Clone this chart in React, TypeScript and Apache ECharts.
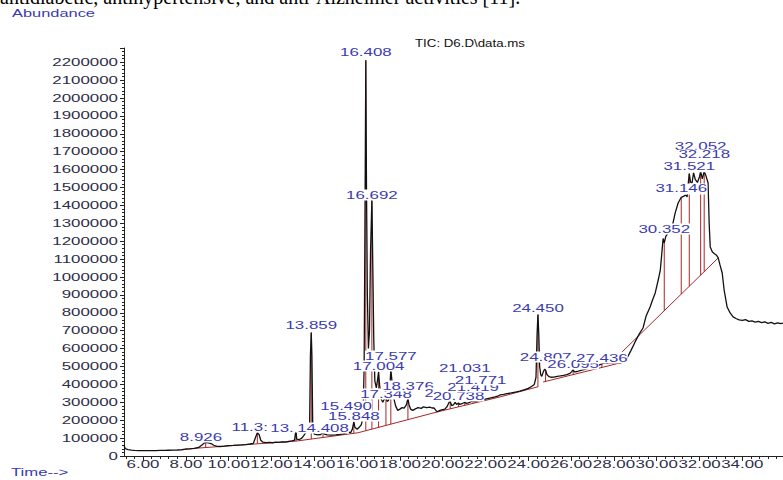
import React, { useEffect, useRef } from "react";
import * as echarts from "echarts";

// Axis extents (retention time in minutes, abundance in counts)
const TIME_MIN = 5.11;
const TIME_MAX = 35.9;
const ABUNDANCE_MAX = 2279000;

const timeTicks = [6, 8, 10, 12, 14, 16, 18, 20, 22, 24, 26, 28, 30, 32, 34];
const timeTickLabels = [
  "6.00", "8.00", "10.00", "12.00", "14.00", "16.00", "18.00", "20.00",
  "22.00", "24.00", "26.00", "28.00", "30.00", "32.00", "34.00",
];
const abundanceTicks = [
  0, 100000, 200000, 300000, 400000, 500000, 600000, 700000, 800000, 900000,
  1000000, 1100000, 1200000, 1300000, 1400000, 1500000, 1600000, 1700000,
  1800000, 1900000, 2000000, 2100000, 2200000,
];
const abundanceTickLabels = [
  "0", "100000", "200000", "300000", "400000", "500000", "600000", "700000",
  "800000", "900000", "1000000", "1100000", "1200000", "1300000", "1400000",
  "1500000", "1600000", "1700000", "1800000", "1900000", "2000000", "2100000",
  "2200000",
];

// Total ion chromatogram: [retention time, abundance]
const ticTrace: [number, number][] = [
  [5.11, 62000], [5.14, 48000], [5.2, 40000], [5.3, 36000], [5.45, 33000], [5.6, 31500],
  [5.8, 30500], [6.0, 30000], [6.2, 30500], [6.4, 29500], [6.6, 30000], [6.8, 31000],
  [7.0, 31000], [7.2, 32000], [7.4, 32500], [7.6, 33500], [7.8, 35000], [8.0, 38000],
  [8.2, 40000], [8.4, 43000], [8.6, 48000], [8.75, 62000], [8.85, 71000], [8.926, 76000],
  [9.0, 75000], [9.1, 72000], [9.2, 68000], [9.3, 60000], [9.45, 54000], [9.6, 53000],
  [9.8, 55000], [10.0, 58000], [10.2, 59000], [10.4, 61000], [10.6, 62000], [10.8, 64000],
  [11.0, 67000], [11.15, 70000], [11.25, 102000], [11.34, 130000], [11.42, 120000],
  [11.5, 88000], [11.6, 77000], [11.75, 75000], [11.9, 76000], [12.05, 74000],
  [12.2, 77000], [12.35, 76000], [12.5, 79000], [12.65, 78000], [12.8, 81000],
  [12.95, 84000], [13.08, 88000], [13.12, 126000], [13.15, 130000], [13.18, 94000],
  [13.3, 92000], [13.4, 98000], [13.5, 112000], [13.6, 130000], [13.7, 138000],
  [13.78, 150000], [13.82, 560000], [13.859, 690000], [13.89, 560000], [13.93, 150000],
  [14.0, 122000], [14.15, 118000], [14.3, 120000], [14.38, 130000], [14.408, 135000],
  [14.45, 124000], [14.6, 118000], [14.8, 117000], [15.0, 118000], [15.2, 121000],
  [15.35, 124000], [15.49, 130000], [15.6, 134000], [15.7, 130000], [15.78, 150000],
  [15.848, 190000], [15.9, 160000], [16.0, 150000], [16.1, 160000], [16.2, 175000],
  [16.28, 220000], [16.33, 500000], [16.37, 1350000], [16.408, 2210000], [16.44, 1500000],
  [16.48, 900000], [16.53, 600000], [16.58, 700000], [16.63, 1150000], [16.692, 1430000],
  [16.73, 1100000], [16.78, 650000], [16.83, 420000], [16.9, 380000], [16.95, 420000],
  [17.004, 470000], [17.05, 400000], [17.12, 320000], [17.2, 300000], [17.28, 320000],
  [17.348, 330000], [17.4, 305000], [17.47, 310000], [17.53, 380000], [17.577, 480000],
  [17.63, 420000], [17.7, 330000], [17.8, 280000], [17.9, 255000], [18.0, 262000],
  [18.1, 270000], [18.2, 268000], [18.3, 285000], [18.376, 320000], [18.43, 285000],
  [18.5, 262000], [18.6, 255000], [18.7, 262000], [18.85, 270000], [19.0, 266000],
  [19.1, 275000], [19.25, 270000], [19.4, 273000], [19.5, 268000], [19.6, 268000],
  [19.7, 252000], [19.74, 247000], [19.82, 252000], [19.95, 258000], [20.1, 262000],
  [20.2, 275000], [20.3, 300000], [20.35, 305000], [20.42, 282000], [20.5, 285000],
  [20.58, 300000], [20.65, 288000], [20.738, 296000], [20.8, 288000], [20.9, 292000],
  [21.031, 300000], [21.1, 294000], [21.2, 297000], [21.3, 302000], [21.419, 308000],
  [21.5, 303000], [21.6, 306000], [21.7, 310000], [21.771, 316000], [21.85, 312000],
  [22.0, 318000], [22.15, 322000], [22.3, 326000], [22.45, 330000], [22.6, 336000],
  [22.68, 341000], [22.85, 344000], [23.0, 348000], [23.2, 352000], [23.4, 357000],
  [23.6, 362000], [23.8, 370000], [24.0, 378000], [24.15, 388000], [24.28, 400000],
  [24.36, 440000], [24.41, 680000], [24.45, 790000], [24.49, 680000], [24.53, 500000],
  [24.58, 455000], [24.63, 445000], [24.7, 470000], [24.76, 485000], [24.807, 480000],
  [24.87, 455000], [24.95, 445000], [25.05, 440000], [25.2, 441000], [25.35, 445000],
  [25.5, 447000], [25.65, 450000], [25.8, 455000], [25.95, 462000], [26.02, 470000],
  [26.095, 482000], [26.15, 470000], [26.3, 472000], [26.45, 478000], [26.6, 482000],
  [26.75, 488000], [26.9, 492000], [27.05, 498000], [27.2, 503000], [27.3, 508000],
  [27.436, 515000], [27.55, 520000], [27.7, 518000], [27.85, 521000], [28.0, 522000],
  [28.15, 520000], [28.3, 518000], [28.45, 525000], [28.6, 545000], [28.8, 590000],
  [29.0, 640000], [29.2, 685000], [29.36, 715000], [29.5, 780000], [29.69, 832000],
  [29.8, 870000], [29.93, 911000], [30.07, 983000], [30.17, 1040000], [30.25, 1150000],
  [30.3, 1215000], [30.352, 1190000], [30.42, 1225000], [30.55, 1250000], [30.72, 1279000],
  [30.86, 1357000], [31.0, 1413000], [31.146, 1445000], [31.25, 1450000], [31.35, 1458000],
  [31.42, 1447000], [31.48, 1530000], [31.521, 1578000], [31.58, 1530000], [31.65, 1525000],
  [31.72, 1582000], [31.8, 1545000], [31.9, 1528000], [32.0, 1560000], [32.052, 1590000],
  [32.13, 1548000], [32.218, 1590000], [32.3, 1565000], [32.4, 1525000], [32.45, 1300000],
  [32.5, 1168000], [32.6, 1140000], [32.7, 1130000], [32.78, 1123000], [32.87, 1108000],
  [32.95, 1070000], [33.06, 1022000], [33.15, 927000], [33.29, 832000], [33.43, 799000],
  [33.57, 777000], [33.7, 768000], [33.85, 760000], [34.0, 757000], [34.15, 762000],
  [34.3, 752000], [34.45, 755000], [34.6, 748000], [34.75, 752000], [34.9, 745000],
  [35.05, 749000], [35.2, 741000], [35.35, 746000], [35.5, 738000], [35.65, 744000],
  [35.8, 739000], [35.9, 742000],
];

// Integration baselines, one polyline per baseline run
const baselineRuns: [number, number][][] = [
  [[7.96, 39000], [13.2, 84000], [16.05, 130000], [19.74, 246000], [22.68, 330000], [24.46, 387000]],
  [[24.69, 413000], [28.29, 520000]],
  [[28.38, 581000], [32.87, 1106000]],
];

// Integrated peaks: retention time of the apex and its printed label
const peakTimes = [
  8.926, 11.34, 13.15, 13.859, 14.408, 15.49, 15.848, 16.408, 16.692, 17.004, 17.348,
  17.577, 18.376, 20.35, 20.738, 21.031, 21.419, 21.771, 24.45, 24.807, 26.095, 27.436,
  30.352, 31.146, 31.521, 32.052, 32.218,
];
const peakLabels = [
  "8.926", "11.3:", "13.", "13.859", "14.408", "15.490", "15.848", "16.408", "16.692",
  "17.004", "17.348", "17.577", "18.376", "2", "20.738", "21.031", "21.419", "21.771",
  "24.450", "24.807", "26.095", "27.436", "30.352", "31.146", "31.521", "32.052", "32.218",
];
// Abundance level at which each label is printed
const peakLabelLevels = [
  106000, 162000, 156000, 732000, 156000, 279000, 223000, 2257000, 1458000, 503000,
  346000, 559000, 391000, 352000, 335000, 492000, 385000, 425000, 827000, 553000,
  514000, 547000, 1268000, 1492000, 1615000, 1732000, 1682000,
];

// Styling
const AXIS_FONT = '10px "Liberation Sans", Arial, sans-serif';
const TEXT_STRETCH = 1.69;
const LABEL_HALF_WIDTH = 25.8;
const AXIS_TEXT_COLOR = "#2e2e48";
const PEAK_TEXT_COLOR = "#3b3bb0";
const TRACE_COLOR = "#111111";
const INTEGRATION_COLOR = "#a82626";

const minorTimeTicks: number[] = [];
for (let k = 13; k <= 89; k++) {
  const v = k * 0.4;
  if (k % 5 !== 0) minorTimeTicks.push(Number(v.toFixed(1)));
}

function apexAt(t: number): number {
  const hit = ticTrace.find((p) => Math.abs(p[0] - t) < 1e-6);
  return hit ? hit[1] : 0;
}

function baselineAt(t: number): number | null {
  for (const run of baselineRuns) {
    for (let i = 0; i < run.length - 1; i++) {
      const [t0, a0] = run[i];
      const [t1, a1] = run[i + 1];
      if (t >= t0 && t <= t1) return a0 + ((t - t0) / (t1 - t0)) * (a1 - a0);
    }
  }
  return null;
}

export default function App() {
  const ref = useRef<HTMLDivElement>(null);

  useEffect(() => {
    if (!ref.current) return;
    const chart = echarts.init(ref.current, undefined, { renderer: "svg" });

    const dropLines = peakTimes
      .map((t) => [t, apexAt(t), baselineAt(t)])
      .filter((d) => d[2] !== null);

    const option: any = {
      animation: false,
      backgroundColor: "#ffffff",
      grid: { left: 124, right: 0, top: 48, bottom: 24 },
      xAxis: [
        {
          type: "value",
          min: TIME_MIN,
          max: TIME_MAX,
          axisLine: { show: true, lineStyle: { color: "#222", width: 1 } },
          axisTick: { show: true, customValues: timeTicks, length: 5, lineStyle: { color: "#222" } },
          axisLabel: { show: false },
          splitLine: { show: false },
        },
        {
          type: "value",
          min: TIME_MIN,
          max: TIME_MAX,
          position: "bottom",
          axisLine: { show: false },
          axisTick: { show: true, customValues: minorTimeTicks, length: 3, lineStyle: { color: "#222" } },
          axisLabel: { show: false },
          splitLine: { show: false },
        },
      ],
      yAxis: {
        type: "value",
        min: 0,
        max: ABUNDANCE_MAX,
        interval: 100000,
        axisLine: { show: true, lineStyle: { color: "#222", width: 1 } },
        axisTick: { show: true, length: 4, lineStyle: { color: "#222" } },
        minorTick: { show: true, splitNumber: 5, length: 2, lineStyle: { color: "#222" } },
        axisLabel: { show: false },
        splitLine: { show: false },
        minorSplitLine: { show: false },
      },
      series: [
        ...baselineRuns.map((run) => ({
          type: "line",
          data: run,
          showSymbol: false,
          silent: true,
          z: 1,
          lineStyle: { color: INTEGRATION_COLOR, width: 1 },
        })),
        {
          type: "custom",
          silent: true,
          z: 1,
          data: dropLines,
          renderItem: (params: any, api: any) => {
            const p1 = api.coord([api.value(0), api.value(2)]);
            const p2 = api.coord([api.value(0), api.value(1)]);
            return {
              type: "line",
              shape: { x1: p1[0], y1: p1[1], x2: p2[0], y2: p2[1] },
              style: { stroke: INTEGRATION_COLOR, lineWidth: 1 },
            };
          },
        },
        {
          type: "line",
          data: ticTrace,
          showSymbol: false,
          silent: true,
          z: 2,
          lineStyle: { color: TRACE_COLOR, width: 1.3 },
        },
        {
          type: "custom",
          silent: true,
          clip: false,
          z: 4,
          data: peakTimes.map((t, i) => [t, peakLabelLevels[i]]),
          renderItem: (params: any, api: any) => {
            const p = api.coord([api.value(0), api.value(1)]);
            return {
              type: "text",
              x: p[0] - LABEL_HALF_WIDTH,
              y: p[1],
              scaleX: TEXT_STRETCH,
              style: {
                text: peakLabels[params.dataIndex],
                font: AXIS_FONT,
                fill: PEAK_TEXT_COLOR,
                align: "left",
                verticalAlign: "middle",
                backgroundColor: "#ffffff",
                padding: [1, 0, 0, 0],
              },
            };
          },
        },
        {
          type: "custom",
          silent: true,
          clip: false,
          z: 4,
          data: abundanceTicks.map((v) => [TIME_MIN, v]),
          renderItem: (params: any, api: any) => {
            const p = api.coord([api.value(0), api.value(1)]);
            return {
              type: "text",
              x: p[0] - 6,
              y: p[1],
              scaleX: TEXT_STRETCH,
              style: {
                text: abundanceTickLabels[params.dataIndex],
                font: AXIS_FONT,
                fill: AXIS_TEXT_COLOR,
                align: "right",
                verticalAlign: "middle",
              },
            };
          },
        },
        {
          type: "custom",
          silent: true,
          clip: false,
          z: 4,
          data: timeTicks.map((t) => [t, 0]),
          renderItem: (params: any, api: any) => {
            const p = api.coord([api.value(0), api.value(1)]);
            return {
              type: "text",
              x: p[0],
              y: p[1] + 3,
              scaleX: TEXT_STRETCH,
              style: {
                text: timeTickLabels[params.dataIndex],
                font: AXIS_FONT,
                fill: AXIS_TEXT_COLOR,
                align: "center",
                verticalAlign: "top",
              },
            };
          },
        },
      ],
      graphic: [
        {
          type: "text",
          x: 0,
          y: -13,
          style: {
            text: "antidiabetic, antihypertensive, and anti-Alzheimer activities [11].",
            font: '20px "Liberation Serif", "Times New Roman", serif',
            fill: "#000",
            align: "left",
            verticalAlign: "top",
          },
        },
        {
          type: "text",
          x: 12,
          y: 14,
          scaleX: 1.64,
          style: { text: "Abundance", font: AXIS_FONT, fill: PEAK_TEXT_COLOR, verticalAlign: "middle" },
        },
        {
          type: "text",
          x: 415,
          y: 43,
          scaleX: 1.33,
          style: { text: "TIC: D6.D\\data.ms", font: AXIS_FONT, fill: "#111", verticalAlign: "middle" },
        },
        {
          type: "text",
          x: 11,
          y: 468,
          scaleX: 1.67,
          style: { text: "Time-->", font: AXIS_FONT, fill: PEAK_TEXT_COLOR, verticalAlign: "top" },
        },
      ],
    };

    chart.setOption(option);
    return () => chart.dispose();
  }, []);

  return (
    <div
      ref={ref}
      style={{ position: "fixed", left: 0, top: 0, width: 783, height: 480 }}
    />
  );
}
